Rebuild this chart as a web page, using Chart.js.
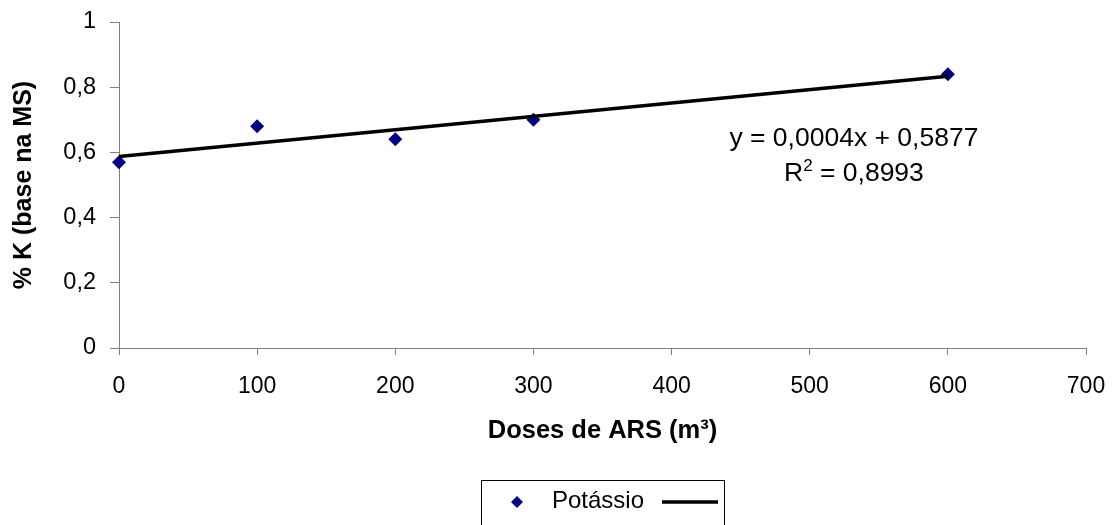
<!DOCTYPE html>
<html>
<head>
<meta charset="utf-8">
<title>Potássio x Doses de ARS</title>
<script src="https://cdn.jsdelivr.net/npm/chart.js@4.4.0/dist/chart.umd.min.js"></script>
<style>
    html, body { margin: 0; padding: 0; background: #fff; }
    #wrap { width: 1112px; height: 525px; }
</style>
</head>
<body>
<div id="wrap"><canvas id="chart-k" width="1112" height="525"></canvas></div>
<script>
// doses de ARS (m³) e teor de K (% da MS)
const doses = [0, 100, 200, 300, 600];
const potassio = [0.57, 0.68, 0.64, 0.70, 0.84];

const xTicks = [0, 100, 200, 300, 400, 500, 600, 700];
const yTicks = [0, 0.2, 0.4, 0.6, 0.8, 1];

const FONT = "'Liberation Sans', Arial, sans-serif";
const NAVY = '#000080';
const AXIS = '#808080';

// least squares fit, same as the excel linear trendline
function linearFit(xs, ys) {
    const n = xs.length;
    const mx = xs.reduce((a, b) => a + b, 0) / n;
    const my = ys.reduce((a, b) => a + b, 0) / n;
    let sxy = 0, sxx = 0, syy = 0;
    for (let i = 0; i < n; i++) {
        sxy += (xs[i] - mx) * (ys[i] - my);
        sxx += (xs[i] - mx) ** 2;
        syy += (ys[i] - my) ** 2;
    }
    const slope = sxy / sxx;
    return {slope: slope, intercept: my - slope * mx, r2: (sxy * sxy) / (sxx * syy)};
}

const fit = linearFit(doses, potassio);
const trend = [Math.min(...doses), Math.max(...doses)].map(function (x) {
    return {x: x, y: fit.intercept + fit.slope * x};
});

function comma(v, digits) {
    const s = digits === undefined ? String(v) : v.toFixed(digits);
    return s.replace('.', ',');
}

// equation + R² next to the trendline
const equationLabel = {
    id: 'equationLabel',
    afterDatasetsDraw(chart) {
        const ctx = chart.ctx;
        const cx = chart.scales.x.getPixelForValue(532);
        const y1 = chart.scales.y.getPixelForValue(0.62);
        const y2 = chart.scales.y.getPixelForValue(0.513);
        const big = '26.5px ' + FONT, small = '17px ' + FONT;

        ctx.save();
        ctx.fillStyle = '#000';
        ctx.textBaseline = 'alphabetic';
        ctx.font = big;
        ctx.textAlign = 'center';
        ctx.fillText('y = ' + comma(fit.slope, 4) + 'x + ' + comma(fit.intercept, 4), cx, y1);

        const rest = ' = ' + comma(fit.r2, 4);
        const wR = ctx.measureText('R').width;
        const wRest = ctx.measureText(rest).width;
        ctx.font = small;
        const w2 = ctx.measureText('2').width;
        const left = cx - (wR + w2 + wRest) / 2;

        ctx.textAlign = 'left';
        ctx.font = big;
        ctx.fillText('R', left, y2);
        ctx.font = small;
        ctx.fillText('2', left + wR, y2 - 10);
        ctx.font = big;
        ctx.fillText(rest, left + wR + w2, y2);
        ctx.restore();
    }
};

// boxed legend: marker, name, then the trendline sample
const legendBox = {
    id: 'legendBox',
    afterDraw(chart) {
        const ctx = chart.ctx;
        const pts = chart.data.datasets[0];
        const line = chart.data.datasets[1];
        const left = 481, top = 480, right = 724;
        const midY = 502;

        ctx.save();
        ctx.strokeStyle = '#000';
        ctx.lineWidth = 1;
        ctx.strokeRect(left + 0.5, top + 0.5, right - left, 80);

        ctx.fillStyle = pts.backgroundColor;
        ctx.strokeStyle = pts.borderColor;
        Chart.helpers.drawPoint(ctx, {pointStyle: 'rectRot', radius: 6, rotation: 0, borderWidth: 0}, 517, midY);

        ctx.fillStyle = '#000';
        ctx.font = '24px ' + FONT;
        ctx.textAlign = 'left';
        ctx.textBaseline = 'alphabetic';
        ctx.fillText(pts.label, 552, 508);

        ctx.strokeStyle = line.borderColor;
        ctx.lineWidth = line.borderWidth;
        ctx.beginPath();
        ctx.moveTo(662, midY);
        ctx.lineTo(718, midY);
        ctx.stroke();
        ctx.restore();
    }
};

new Chart(document.getElementById('chart-k'), {
    type: 'scatter',
    data: {
        datasets: [{
            label: 'Potássio',
            data: doses.map((x, i) => ({x: x, y: potassio[i]})),
            pointStyle: 'rectRot',
            pointRadius: 7,
            pointHoverRadius: 7,
            backgroundColor: NAVY,
            borderColor: NAVY,
            borderWidth: 0,
            clip: false,
            order: 2
        }, {
            label: 'Linear (Potássio)',
            data: trend,
            showLine: true,
            pointRadius: 0,
            borderColor: '#000',
            borderWidth: 3.5,
            clip: false,
            order: 1
        }]
    },
    options: {
        responsive: false,
        animation: false,
        layout: {padding: {left: 0, top: 22, right: 26, bottom: 0}},
        plugins: {
            legend: {display: false},
            tooltip: {enabled: false}
        },
        scales: {
            x: {
                type: 'linear',
                min: 0,
                max: 700,
                afterBuildTicks: function (s) { s.ticks = xTicks.map(v => ({value: v})); },
                afterFit: function (s) {
                    s.height = 177;
                    s.paddingLeft = 0;
                    s.paddingRight = 0;
                },
                grid: {drawOnChartArea: false, color: AXIS, tickLength: 7},
                border: {color: AXIS},
                ticks: {color: '#000', font: {family: FONT, size: 23}, padding: 18, maxRotation: 0},
                title: {
                    display: true,
                    text: 'Doses de ARS (m³)',
                    color: '#000',
                    font: {family: FONT, size: 25.5, weight: 'bold'},
                    padding: {top: 0, bottom: 79}
                }
            },
            y: {
                type: 'linear',
                min: 0,
                max: 1,
                afterBuildTicks: function (s) { s.ticks = yTicks.map(v => ({value: v})); },
                afterFit: function (s) {
                    s.width = 119;
                    s.paddingTop = 0;
                    s.paddingBottom = 0;
                },
                grid: {drawOnChartArea: false, color: AXIS, tickLength: 9},
                border: {color: AXIS},
                ticks: {color: '#000', font: {family: FONT, size: 23.5}, padding: 14, callback: v => comma(v)},
                title: {
                    display: true,
                    text: '% K (base na MS)',
                    color: '#000',
                    font: {family: FONT, size: 25, weight: 'bold'},
                    padding: {top: 9, bottom: 0}
                }
            }
        }
    },
    plugins: [equationLabel, legendBox]
});
</script>
</body>
</html>
